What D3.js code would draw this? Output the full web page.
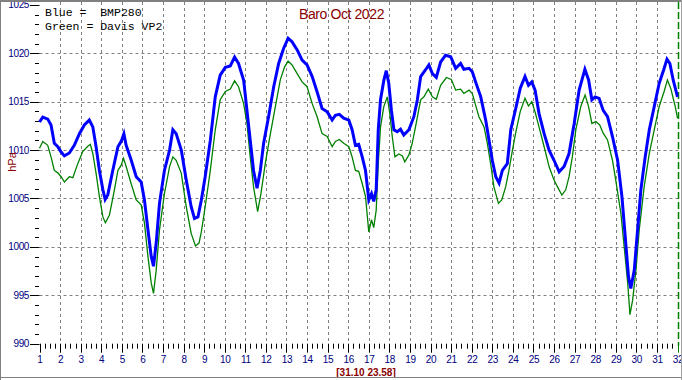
<!DOCTYPE html>
<html><head><meta charset="utf-8">
<script src="https://cdn.jsdelivr.net/npm/d3@7"></script>
<style>html,body{margin:0;padding:0;background:#fff;}svg{display:block;}</style>
</head><body>
<svg id="chart" width="682" height="380"></svg>
<script>
// ---- data (day of month, hPa) ----
const blueDays = [1.0,1.16,1.40,1.56,1.72,1.89,2.05,2.21,2.45,2.69,2.94,3.18,3.42,3.59,3.75,3.91,4.08,4.19,4.32,4.56,4.81,4.97,5.10,5.21,5.45,5.70,5.94,6.10,6.27,6.43,6.54,6.67,6.83,7.07,7.32,7.48,7.64,7.89,8.13,8.37,8.53,8.70,8.86,9.05,9.30,9.54,9.78,10.03,10.27,10.48,10.67,10.92,11.08,11.24,11.40,11.57,11.73,11.89,12.13,12.38,12.62,12.86,13.08,13.27,13.52,13.76,14.00,14.25,14.49,14.73,14.98,15.22,15.38,15.57,15.78,16.03,16.19,16.35,16.51,16.68,16.84,17.00,17.13,17.24,17.36,17.46,17.57,17.73,17.85,17.97,18.10,18.22,18.38,18.54,18.70,18.95,19.19,19.36,19.52,19.76,19.92,20.09,20.28,20.49,20.73,20.98,21.22,21.46,21.62,21.87,22.03,22.19,22.44,22.68,22.84,23.00,23.17,23.33,23.49,23.73,23.90,24.14,24.36,24.59,24.76,24.92,25.08,25.27,25.52,25.76,26.00,26.25,26.49,26.73,26.98,27.22,27.50,27.68,27.84,28.00,28.19,28.39,28.60,28.84,29.09,29.30,29.46,29.62,29.73,29.90,30.06,30.22,30.43,30.63,30.87,31.11,31.33,31.49,31.63,31.79,32.0];
const blueHpa = [1012.9,1013.4,1013.2,1012.6,1010.7,1010.35,1009.8,1009.4,1009.7,1010.5,1011.7,1012.6,1013.1,1012.4,1010.35,1007.9,1005.9,1004.9,1005.4,1007.9,1010.35,1010.9,1011.7,1010.5,1009.0,1007.25,1006.7,1004.85,1001.75,999.0,998.0,1000.4,1004.5,1007.9,1010.0,1012.1,1011.7,1010.0,1006.9,1004.15,1002.95,1003.1,1004.8,1007.25,1011.0,1015.5,1017.75,1018.55,1018.7,1019.6,1018.95,1017.2,1014.1,1011.0,1007.9,1006.05,1007.9,1010.7,1013.45,1016.55,1018.95,1020.5,1021.55,1021.2,1020.35,1019.3,1018.8,1017.6,1016.0,1014.3,1013.95,1013.1,1013.6,1013.7,1013.3,1013.1,1012.1,1010.5,1010.6,1009.3,1007.9,1004.85,1005.5,1004.7,1005.9,1012.1,1015.2,1017.2,1018.2,1016.9,1014.1,1012.1,1011.9,1012.15,1011.55,1012.1,1013.45,1015.2,1017.6,1018.3,1018.8,1017.9,1017.5,1019.1,1019.8,1019.65,1018.45,1018.95,1018.35,1018.45,1018.1,1017.05,1015.5,1013.1,1011.05,1008.95,1007.25,1006.6,1007.9,1008.6,1012.1,1014.3,1016.4,1017.6,1016.7,1017.05,1016.2,1013.8,1011.7,1010.0,1008.95,1007.75,1008.3,1009.65,1012.75,1016.2,1018.35,1017.25,1015.2,1015.5,1015.35,1014.1,1013.45,1011.4,1008.95,1005.2,1001.05,996.9,995.7,997.6,1001.75,1005.9,1009.3,1012.1,1014.5,1016.9,1018.3,1019.4,1018.95,1017.25,1015.5];

const greenDays = [1.0,1.16,1.40,1.56,1.72,1.89,2.05,2.21,2.45,2.62,2.86,3.10,3.35,3.47,3.59,3.75,3.91,4.08,4.20,4.40,4.64,4.81,4.97,5.08,5.21,5.45,5.70,5.94,6.10,6.27,6.43,6.54,6.67,6.83,7.07,7.32,7.48,7.64,7.89,8.13,8.37,8.58,8.75,8.86,9.05,9.30,9.54,9.78,10.03,10.27,10.48,10.67,10.92,11.08,11.24,11.40,11.60,11.76,11.97,12.22,12.46,12.70,12.91,13.08,13.27,13.52,13.76,14.00,14.25,14.49,14.73,14.98,15.22,15.38,15.57,15.78,16.03,16.19,16.35,16.51,16.68,16.84,17.00,17.13,17.24,17.36,17.46,17.57,17.73,17.90,18.02,18.14,18.27,18.46,18.63,18.75,18.95,19.11,19.27,19.52,19.68,19.89,20.09,20.28,20.49,20.77,21.01,21.22,21.46,21.62,21.87,22.03,22.19,22.35,22.60,22.76,22.92,23.08,23.30,23.46,23.65,23.81,23.98,24.14,24.36,24.59,24.76,24.92,25.08,25.27,25.52,25.76,26.00,26.17,26.38,26.57,26.73,26.89,27.06,27.30,27.51,27.68,27.84,28.03,28.22,28.39,28.60,28.84,29.00,29.25,29.41,29.58,29.69,29.82,29.98,30.14,30.38,30.63,30.87,31.11,31.35,31.51,31.67,31.89,32.0];
const greenHpa = [1010.2,1010.9,1010.5,1009.3,1007.9,1007.65,1007.25,1006.7,1007.25,1007.15,1008.6,1009.85,1010.4,1010.6,1009.65,1007.6,1005.2,1003.1,1002.5,1003.3,1005.9,1007.9,1008.45,1009.15,1008.3,1006.55,1004.85,1004.35,1002.45,999.0,996.25,995.2,997.6,1001.75,1005.5,1008.3,1009.3,1008.95,1007.6,1004.15,1001.4,1000.1,1000.4,1001.5,1004.15,1007.9,1012.1,1015.2,1016.05,1016.3,1017.15,1016.55,1014.8,1012.75,1009.3,1006.2,1003.65,1005.5,1008.6,1011.7,1014.5,1017.25,1018.6,1019.2,1018.8,1017.9,1017.05,1016.55,1014.8,1013.45,1011.7,1011.4,1010.35,1010.9,1011.1,1010.7,1010.35,1009.3,1007.9,1007.8,1006.55,1005.2,1001.55,1002.8,1002.0,1003.8,1008.6,1012.4,1014.5,1015.5,1013.8,1011.4,1009.3,1009.6,1009.4,1008.8,1009.5,1010.7,1012.4,1015.2,1015.5,1016.3,1015.5,1015.25,1016.7,1017.5,1017.3,1016.2,1016.3,1015.85,1016.2,1015.85,1014.65,1013.45,1012.4,1010.7,1008.6,1006.2,1004.5,1004.85,1006.2,1007.9,1010.0,1011.8,1014.0,1015.35,1014.55,1015.0,1013.95,1012.4,1010.35,1008.3,1006.9,1006.2,1005.35,1005.9,1007.25,1009.3,1012.1,1014.5,1015.7,1014.5,1012.75,1012.95,1012.6,1011.75,1011.05,1008.95,1006.9,1003.45,1000.0,996.25,993.0,994.5,997.6,1001.75,1006.2,1009.65,1012.1,1014.5,1016.05,1017.25,1016.4,1014.5,1013.3];

const dayTicks = d3.range(1, 33);
const hpaTicks = [990, 995, 1000, 1005, 1010, 1015, 1020, 1025];
const titleText = "Baro Oct 2022";
const legendLines = ["Blue =  BMP280", "Green = Davis VP2"];
const yTitle = "hPa";
const stampText = "[31.10 23.58]";

// ---- layout ----
const svg = d3.select("#chart");
const W = 682, H = 380;
const x = d3.scaleLinear().domain([1, 32]).range([39.5, 677.5]);
const y = d3.scaleLinear().domain([990, 1025]).range([343.7, 4.9]);
const gridCol = "#808080", axisCol = "#000080", redCol = "#8b0000";

svg.append("rect").attr("width", W).attr("height", H).attr("fill", "#fff");

// horizontal grid
svg.append("g").selectAll("line").data(hpaTicks.filter(v => v > 990 && v < 1025)).join("line")
  .attr("x1", x(1)).attr("x2", W).attr("y1", d => Math.round(y(d)) + 0.5).attr("y2", d => Math.round(y(d)) + 0.5)
  .attr("stroke", gridCol).attr("stroke-width", 1).attr("stroke-dasharray", "3,3");
// vertical grid
svg.append("g").selectAll("line").data(dayTicks.filter(d => d > 1 && d < 32)).join("line")
  .attr("x1", d => Math.round(x(d)) + 0.5).attr("x2", d => Math.round(x(d)) + 0.5)
  .attr("y1", 2).attr("y2", y(990))
  .attr("stroke", gridCol).attr("stroke-width", 1).attr("stroke-dasharray", "3,3");
// end marker
svg.append("line").attr("x1", Math.round(x(32)) + 0.5).attr("x2", Math.round(x(32)) + 0.5)
  .attr("y1", 2).attr("y2", y(990) + 2)
  .attr("stroke", "#008000").attr("stroke-width", 1.5).attr("stroke-dasharray", "7,3");

// y axis ticks
const yMinor = d3.range(991, 1025).filter(v => v % 5 !== 0);
svg.append("g").selectAll("line").data(yMinor).join("line")
  .attr("x1", 35).attr("x2", 39).attr("y1", d => Math.round(y(d)) + 0.5).attr("y2", d => Math.round(y(d)) + 0.5)
  .attr("stroke", "#000").attr("stroke-width", 1);
svg.append("g").selectAll("line").data(hpaTicks).join("line")
  .attr("x1", 30).attr("x2", 39.5).attr("y1", d => Math.round(y(d)) + 0.5).attr("y2", d => Math.round(y(d)) + 0.5)
  .attr("stroke", "#000").attr("stroke-width", 1);
svg.append("g").selectAll("text").data(hpaTicks).join("text")
  .attr("x", 29).attr("y", d => y(d) + 3.5).attr("text-anchor", "end")
  .attr("font-family", "Liberation Sans, Arial, sans-serif").attr("font-size", 10).attr("letter-spacing", -0.4)
  .attr("fill", axisCol).text(d => d);

// x axis ticks
const xMinor = d3.range(0, 31 * 4 + 1).map(i => 1 + i / 4).filter(d => d % 1 !== 0);
svg.append("g").selectAll("line").data(xMinor).join("line")
  .attr("x1", d => Math.round(x(d)) + 0.5).attr("x2", d => Math.round(x(d)) + 0.5)
  .attr("y1", y(990)).attr("y2", y(990) + 5).attr("stroke", "#000");
svg.append("g").selectAll("line").data(dayTicks).join("line")
  .attr("x1", d => Math.round(x(d)) + 0.5).attr("x2", d => Math.round(x(d)) + 0.5)
  .attr("y1", y(990)).attr("y2", y(990) + 9).attr("stroke", d => d === 32 ? "#008000" : "#000");
svg.append("g").selectAll("text").data(dayTicks).join("text")
  .attr("x", d => x(d) + 0.5).attr("y", 363).attr("text-anchor", "middle")
  .attr("font-family", "Liberation Sans, Arial, sans-serif").attr("font-size", 10).attr("letter-spacing", -0.3)
  .attr("fill", axisCol).text(d => d);

// series
const line = d3.line().x(d => x(d[0])).y(d => y(d[1]));
svg.append("path").datum(greenDays.map((d, i) => [d, greenHpa[i]]))
  .attr("d", line).attr("fill", "none").attr("stroke", "#008000").attr("stroke-width", 1.3);
svg.append("path").datum(blueDays.map((d, i) => [d, blueHpa[i]]))
  .attr("d", line).attr("fill", "none").attr("stroke", "#0000ff").attr("stroke-width", 3);

// title
svg.append("text").attr("x", 341.5).attr("y", 18.5).attr("text-anchor", "middle")
  .attr("font-family", "Liberation Sans, Arial, sans-serif").attr("font-size", 14).attr("letter-spacing", -0.4)
  .attr("fill", redCol).text(titleText);
// legend
svg.append("g").selectAll("text").data(legendLines).join("text")
  .attr("x", 45).attr("y", (d, i) => 16 + i * 13.5).attr("xml:space", "preserve")
  .style("white-space", "pre")
  .attr("font-family", "Liberation Mono, Courier New, monospace").attr("font-size", 11.5)
  .attr("fill", "#000").text(d => d);
// y title
svg.append("text").attr("transform", "translate(16,162) rotate(-90)").attr("text-anchor", "middle")
  .attr("font-family", "Liberation Sans, Arial, sans-serif").attr("font-size", 11)
  .attr("fill", redCol).text(yTitle);
// stamp
svg.append("text").attr("x", 366).attr("y", 375.5).attr("text-anchor", "middle")
  .attr("font-family", "Liberation Sans, Arial, sans-serif").attr("font-size", 10).attr("font-weight", "bold")
  .attr("fill", redCol).text(stampText);

// frame
svg.append("line").attr("x1", 0).attr("x2", W).attr("y1", 1).attr("y2", 1).attr("stroke", "#808080").attr("stroke-width", 2);
svg.append("line").attr("x1", 0.5).attr("x2", 0.5).attr("y1", 0).attr("y2", H).attr("stroke", "#808080").attr("stroke-width", 1);
svg.append("line").attr("x1", 0).attr("x2", W).attr("y1", H - 2.5).attr("y2", H - 2.5).attr("stroke", "#808080").attr("stroke-width", 1);
svg.append("line").attr("x1", W - 0.5).attr("x2", W - 0.5).attr("y1", 0).attr("y2", H).attr("stroke", "#a0a0a0").attr("stroke-width", 1);
</script>
</body></html>
